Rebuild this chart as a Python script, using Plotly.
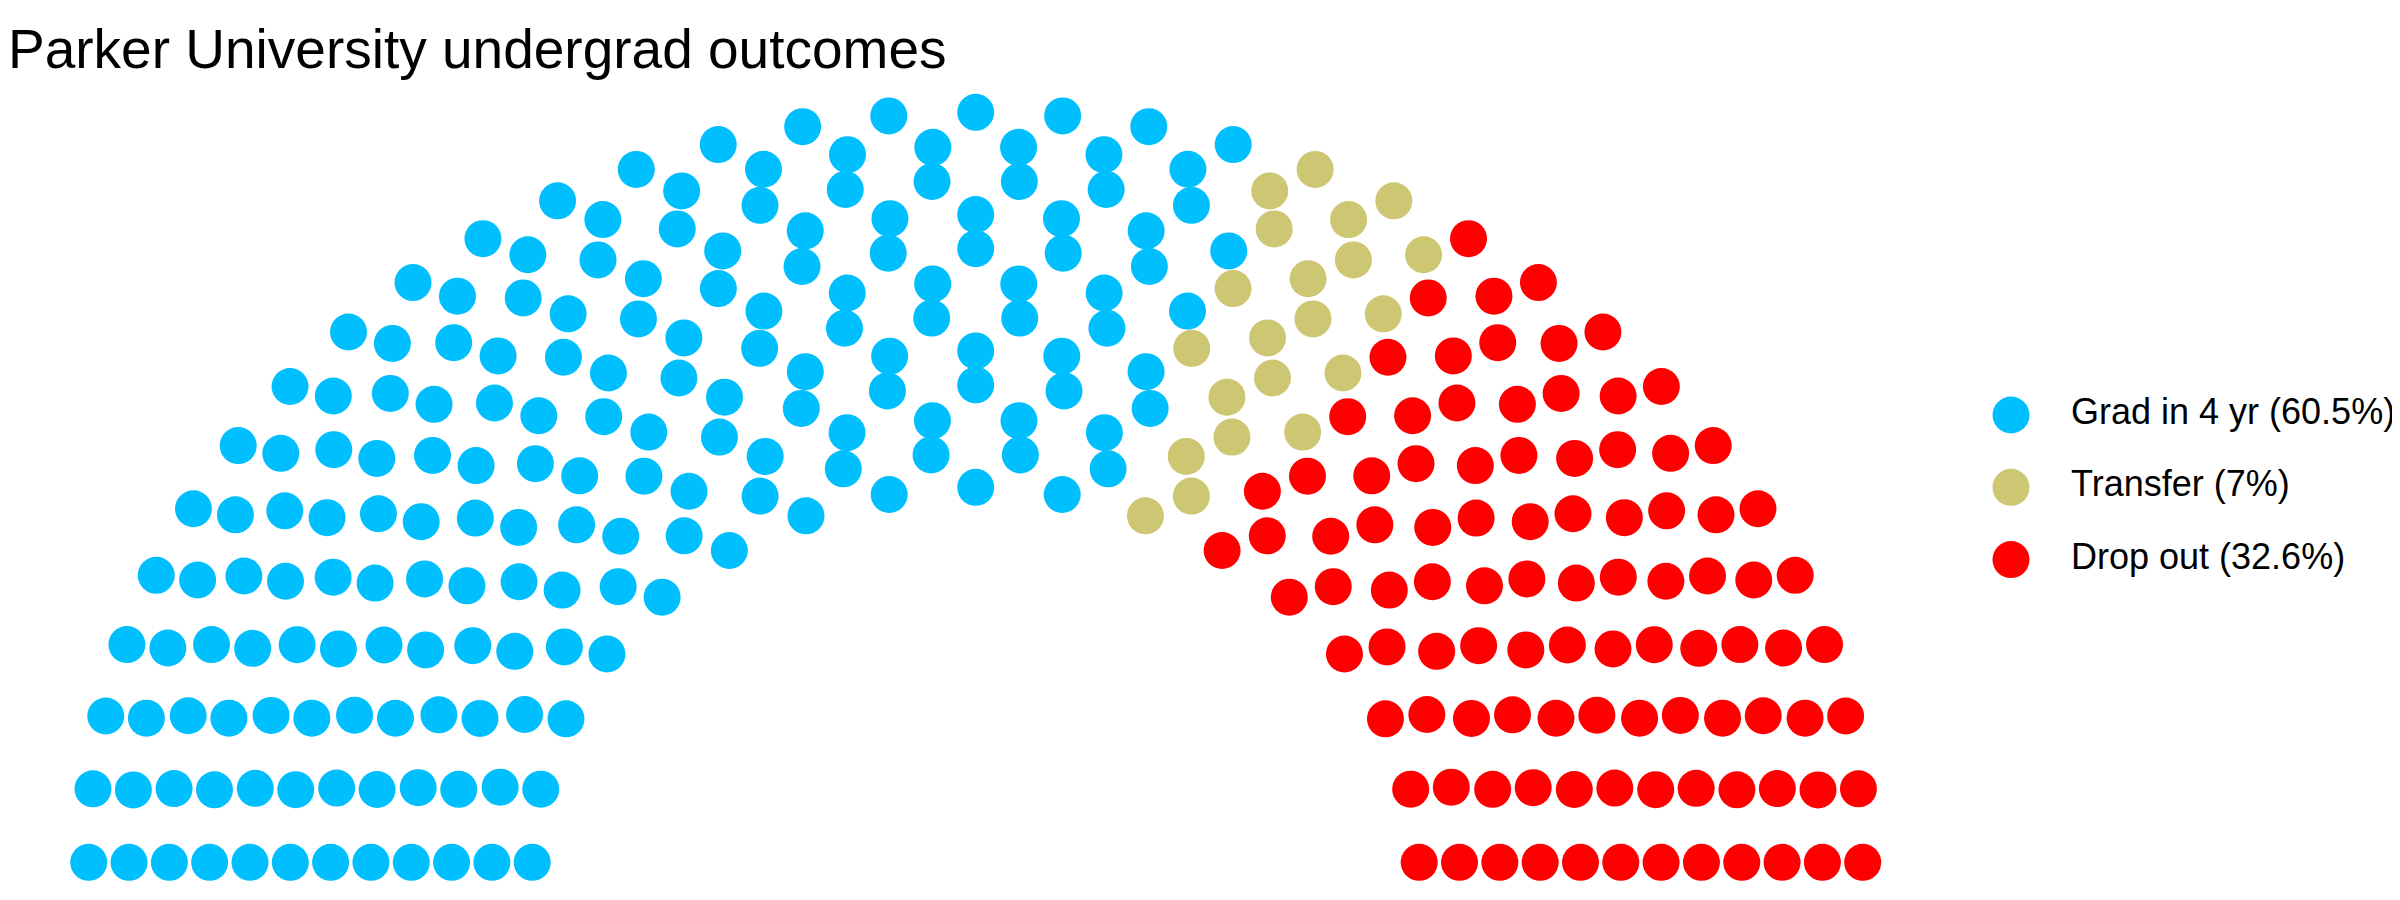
import numpy as np
import plotly.graph_objects as go

# data
title = "Parker University undergrad outcomes"
parties = ["Grad in 4 yr", "Transfer", "Drop out"]
shares = ["60.5%", "7%", "32.6%"]
seats = [181, 21, 98]
colours = ["#00BFFF", "#CDC673", "#FF0000"]
n_rows = 12

labels = [f"{p} ({s})" for p, s in zip(parties, shares)]


# semicircle parliament layout, same idea as ggparliament:
# rows of seats on arcs from radius 1 to 2, seats filled left to right by angle
def parliament_layout(n, rows, r_in=1.0, r_out=2.0):
    radii = np.linspace(r_in, r_out, rows)
    pts = []
    left = n
    for i, r in enumerate(radii):
        k = int(round(left * r / radii[i:].sum()))
        left -= k
        for t in np.linspace(0, np.pi, k):
            pts.append((r * np.cos(t), r * np.sin(t), i, t))
    pts.sort(key=lambda p: (-p[3], -p[2]))
    return np.array(pts)


pts = parliament_layout(sum(seats), n_rows)
party_idx = np.repeat(np.arange(len(seats)), seats)

fig = go.Figure()
for i, name in enumerate(labels):
    sel = party_idx == i
    fig.add_trace(go.Scatter(
        x=pts[sel, 0], y=pts[sel, 1], mode="markers", name=name,
        marker=dict(size=37, color=colours[i], line=dict(width=0)),
        showlegend=False, hoverinfo="name",
    ))

# legend drawn as its own little scatter so the dots can be full size
fig.add_trace(go.Scatter(
    x=[2011] * 3, y=labels, mode="markers", xaxis="x2", yaxis="y2",
    marker=dict(size=37, color=colours, line=dict(width=0)),
    showlegend=False, hoverinfo="skip",
))
fig.add_trace(go.Scatter(
    x=[2071] * 3, y=labels, mode="text", text=labels, textposition="middle right",
    xaxis="x2", yaxis="y2", showlegend=False, hoverinfo="skip",
    textfont=dict(size=36, color="black", family="Liberation Sans, Arial, sans-serif"),
))

# page body has an 8px margin, so the figure is 8px smaller each way
fig.update_layout(
    width=2392, height=892,
    margin=dict(l=0, r=0, t=0, b=0),
    plot_bgcolor="white", paper_bgcolor="white",
    title=dict(text=title, x=0, xref="container", xanchor="left",
               y=1 - 41 / 892, yref="container", yanchor="middle",
               font=dict(size=55, color="black", family="Liberation Sans, Arial, sans-serif")),
    xaxis=dict(range=[-2.1820, 3.2115], visible=False, fixedrange=True),
    yaxis=dict(range=[-0.1005, 2.2781], visible=False, fixedrange=True),
    xaxis2=dict(range=[8, 2400], domain=[0, 1], anchor="y2", overlaying="x", visible=False),
    yaxis2=dict(type="category", categoryorder="array", categoryarray=labels,
                range=[6.708, -5.629], domain=[0, 1], anchor="x2", overlaying="y", visible=False),
    showlegend=False,
)

fig.write_html("out.html")
